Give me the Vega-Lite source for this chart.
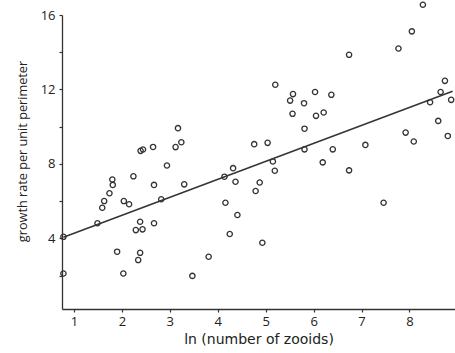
{
  "$schema": "https://vega.github.io/schema/vega-lite/v6.json",
  "width": 393,
  "height": 294,
  "autosize": {"type": "none"},
  "padding": {"left": 62, "top": 15, "right": 0, "bottom": 44},
  "background": "white",
  "config": {
    "view": {"stroke": null},
    "font": "Open Sans",
    "axis": {
      "grid": false,
      "domainColor": "#333",
      "domainWidth": 1.3,
      "tickColor": "#333",
      "tickSize": 3,
      "tickWidth": 1.2,
      "labelFont": "Open Sans",
      "labelFontSize": 13,
      "labelColor": "#222",
      "titleFont": "Open Sans",
      "titleFontSize": 13,
      "titleFontWeight": "normal",
      "titleColor": "#222"
    }
  },
  "layer": [
    {
      "data": {"values": [
        {"x": 3.17, "y": 9.92}, {"x": 3.24, "y": 9.16}, {"x": 3.12, "y": 8.90}, {"x": 2.65, "y": 8.91},
        {"x": 2.39, "y": 8.70}, {"x": 2.44, "y": 8.77}, {"x": 2.94, "y": 7.91}, {"x": 2.24, "y": 7.33},
        {"x": 1.80, "y": 7.16}, {"x": 1.81, "y": 6.87}, {"x": 1.74, "y": 6.42}, {"x": 1.63, "y": 6.00},
        {"x": 1.59, "y": 5.64}, {"x": 2.67, "y": 6.87}, {"x": 3.30, "y": 6.90}, {"x": 2.04, "y": 6.00},
        {"x": 2.15, "y": 5.83}, {"x": 2.82, "y": 6.10}, {"x": 1.49, "y": 4.81}, {"x": 2.38, "y": 4.89},
        {"x": 2.29, "y": 4.44}, {"x": 2.43, "y": 4.48}, {"x": 2.67, "y": 4.81}, {"x": 0.78, "y": 4.08},
        {"x": 1.90, "y": 3.28}, {"x": 2.38, "y": 3.22}, {"x": 2.34, "y": 2.83}, {"x": 2.03, "y": 2.11},
        {"x": 0.78, "y": 2.11}, {"x": 3.47, "y": 1.98}, {"x": 3.81, "y": 3.01}, {"x": 4.14, "y": 7.31},
        {"x": 4.16, "y": 5.91}, {"x": 4.25, "y": 4.23}, {"x": 4.37, "y": 7.04}, {"x": 4.41, "y": 5.25},
        {"x": 4.79, "y": 6.54}, {"x": 4.875, "y": 7.00}, {"x": 4.93, "y": 3.76}, {"x": 5.19, "y": 7.63},
        {"x": 6.74, "y": 7.65}, {"x": 7.46, "y": 5.91}, {"x": 8.28, "y": 16.55}, {"x": 8.05, "y": 15.12},
        {"x": 7.77, "y": 14.20}, {"x": 6.74, "y": 13.86}, {"x": 5.20, "y": 12.25}, {"x": 5.57, "y": 11.75},
        {"x": 5.51, "y": 11.40}, {"x": 6.03, "y": 11.86}, {"x": 5.80, "y": 11.26}, {"x": 6.37, "y": 11.71},
        {"x": 5.56, "y": 10.69}, {"x": 6.05, "y": 10.58}, {"x": 6.21, "y": 10.76}, {"x": 5.81, "y": 9.89},
        {"x": 4.76, "y": 9.06}, {"x": 5.04, "y": 9.13}, {"x": 5.81, "y": 8.78}, {"x": 6.40, "y": 8.78},
        {"x": 7.08, "y": 9.02}, {"x": 5.15, "y": 8.13}, {"x": 6.19, "y": 8.08}, {"x": 4.32, "y": 7.77},
        {"x": 7.92, "y": 9.68}, {"x": 8.09, "y": 9.20}, {"x": 8.43, "y": 11.31}, {"x": 8.65, "y": 11.86},
        {"x": 8.74, "y": 12.46}, {"x": 8.87, "y": 11.44}, {"x": 8.60, "y": 10.31}, {"x": 8.80, "y": 9.50}
      ]},
      "mark": {"type": "point", "shape": "circle", "filled": false, "stroke": "#333", "strokeWidth": 1.3, "size": 28, "opacity": 1},
      "encoding": {
        "x": {
          "field": "x", "type": "quantitative",
          "scale": {"domain": [0.75, 8.95], "nice": false, "zero": false},
          "axis": {"values": [1, 2, 3, 4, 5, 6, 7, 8], "title": "ln (number of zooids)", "titleFont": "DejaVu Sans", "titleFontSize": 14, "labelPadding": 3, "titlePadding": 4}
        },
        "y": {
          "field": "y", "type": "quantitative",
          "scale": {"domain": [0.2, 16], "nice": false, "zero": false},
          "axis": {
            "values": [2, 4, 6, 8, 10, 12, 14, 16],
            "labelExpr": "datum.value % 4 === 0 ? datum.label : ''",
            "title": "growth rate per unit perimeter",
            "titleFontSize": 12.7,
            "titleY": 136,
            "labelPadding": 4,
            "titlePadding": 11
          }
        }
      }
    },
    {
      "data": {"values": [{"x": 0.78, "y": 4.06}, {"x": 8.9, "y": 11.9}]},
      "mark": {"type": "line", "stroke": "#333", "strokeWidth": 1.5},
      "encoding": {
        "x": {"field": "x", "type": "quantitative"},
        "y": {"field": "y", "type": "quantitative"}
      }
    }
  ]
}
